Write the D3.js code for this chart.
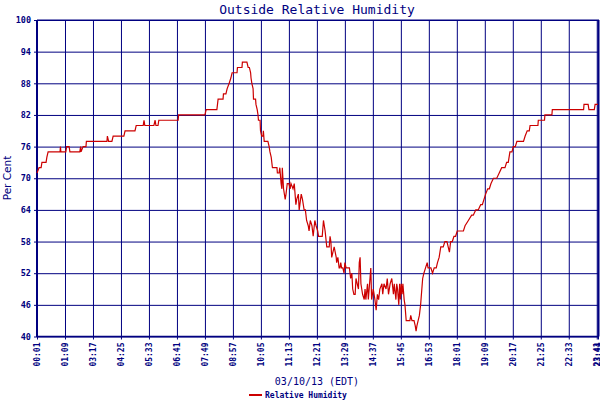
<!DOCTYPE html>
<html>
<head>
<meta charset="utf-8">
<script src="https://cdn.jsdelivr.net/npm/d3@7"></script>
<style>
  body { margin: 0; background: #fff; }
  svg { display: block; }
  .grid line { stroke: #000080; stroke-width: 1; }
  .grid path { display: none; }
</style>
</head>
<body>
<svg id="chart" width="600" height="400"></svg>
<script>
// minutes elapsed since 00:01 EDT (clock jumped 02:00 -> 03:00 this day)
var minutes = [0, 5, 10, 12, 22, 24, 27, 56, 57, 58, 70, 72, 78, 80, 104, 106, 107, 112, 119, 120,
    170, 171, 174, 182, 185, 211, 214, 238, 241, 258, 260, 262, 284, 287, 289, 294, 296, 343, 344, 408,
    411, 437, 440, 452, 453, 459, 462, 467, 471, 474, 486, 487, 498, 499, 510, 513, 516, 519, 520, 522,
    525, 526, 531, 532, 535, 537, 538, 542, 543, 546, 549, 550, 552, 561, 564, 566, 569, 572, 583, 584,
    588, 590, 593, 595, 596, 599, 603, 605, 608, 612, 615, 617, 622, 625, 629, 631, 635, 637, 642, 645,
    649, 652, 655, 659, 661, 664, 668, 671, 675, 678, 682, 684, 693, 694, 696, 700, 704, 706, 710, 712,
    714, 716, 719, 722, 727, 728, 731, 734, 736, 738, 740, 743, 746, 748, 751, 755, 759, 762, 765, 767,
    770, 773, 775, 778, 781, 783, 785, 787, 789, 791, 795, 797, 799, 803, 805, 807, 811, 813, 817, 821,
    824, 827, 830, 833, 838, 840, 843, 848, 851, 854, 858, 862, 866, 868, 872, 874, 876, 879, 881, 883,
    885, 887, 889, 892, 894, 897, 906, 908, 911, 916, 919, 921, 923, 926, 929, 932, 935, 937, 940, 944,
    948, 950, 957, 961, 965, 970, 973, 977, 981, 987, 991, 996, 999, 1002, 1005, 1009, 1013, 1017, 1021, 1036,
    1040, 1048, 1056, 1060, 1066, 1072, 1078, 1082, 1086, 1090, 1095, 1099, 1103, 1109, 1117, 1123, 1129, 1137, 1141, 1145,
    1149, 1154, 1157, 1162, 1166, 1182, 1186, 1191, 1196, 1198, 1217, 1218, 1233, 1234, 1251, 1252, 1328, 1329, 1339, 1341,
    1354, 1356, 1363];

var humidity = [71, 72, 72, 73, 73, 74, 75, 75, 76, 75, 75, 76, 76, 75, 75, 76, 75, 76, 76, 77,
    77, 78, 77, 77, 78, 78, 79, 79, 80, 80, 81, 80, 80, 81, 80, 80, 81, 81, 82, 82,
    83, 83, 85, 85, 86, 86, 87, 88, 89, 90, 90, 91, 91, 92, 92, 91, 91, 90, 89, 88,
    87, 85, 85, 84, 83, 82, 81, 81, 79, 78, 78, 79, 77, 77, 76, 75, 74, 72, 72, 71,
    71, 72, 69, 68, 72, 68, 66, 67, 69, 69, 68, 69, 68, 69, 65, 66, 67, 64, 67, 66,
    64, 64, 62, 61, 60, 62, 61, 59, 62, 61, 60, 59, 59, 60, 62, 60, 57, 57, 57, 59,
    58, 55, 56, 57, 55, 54, 55, 53, 53, 54, 53, 53, 52, 54, 53, 53, 53, 51, 52, 49,
    48, 48, 51, 50, 49, 54, 55, 50, 49, 48, 47, 49, 47, 50, 47, 49, 53, 47, 49, 47,
    45, 48, 47, 49, 50, 48, 50, 49, 51, 48, 50, 51, 48, 50, 47, 50, 49, 46, 50, 47,
    50, 48, 50, 47, 46, 43, 43, 44, 43, 43, 42, 41, 42, 43, 44, 46, 49, 51, 52, 53,
    54, 53, 53, 52, 53, 53, 54, 55, 57, 57, 58, 58, 57, 56, 58, 58, 59, 59, 60, 60,
    61, 62, 63, 63, 64, 64, 65, 65, 66, 67, 68, 68, 69, 70, 70, 71, 72, 72, 73, 73,
    75, 75, 76, 76, 77, 77, 78, 79, 79, 80, 80, 81, 81, 82, 82, 83, 83, 84, 84, 83,
    83, 84, 84];

var xTicks = [0, 68, 136, 204, 272, 340, 408, 476, 544, 612, 680, 748, 816, 884, 952, 1020, 1088, 1156, 1224, 1292, 1360, 1363];
var xTickLabels = ["00:01", "01:09", "03:17", "04:25", "05:33", "06:41", "07:49", "08:57", "10:05", "11:13", "12:21",
    "13:29", "14:37", "15:45", "16:53", "18:01", "19:09", "20:17", "21:25", "22:33", "23:41", "23:44"];
var yTicks = [40, 46, 52, 58, 64, 70, 76, 82, 88, 94, 100];

var navy = "#000080";
var red = "#cc0000";
var mono = "'DejaVu Sans Mono', monospace";

var plotLeft = 37, plotRight = 598, plotTop = 20, plotBottom = 336.5;

var svg = d3.select("#chart");

var x = d3.scaleLinear().domain([0, 1363]).range([plotLeft, plotRight]);
var y = d3.scaleLinear().domain([40, 100]).range([plotBottom, plotTop]);

var data = minutes.map(function (m, i) { return { t: m, v: humidity[i] }; });

// grid lines
svg.append("g")
    .attr("class", "grid")
    .attr("transform", "translate(0," + plotBottom + ")")
    .call(d3.axisBottom(x).tickValues(xTicks).tickSize(-(plotBottom - plotTop)).tickFormat(""));

svg.append("g")
    .attr("class", "grid")
    .attr("transform", "translate(" + plotLeft + ",0)")
    .call(d3.axisLeft(y).tickValues(yTicks).tickSize(-(plotRight - plotLeft)).tickFormat(""));

// y labels
var yAxis = svg.append("g")
    .attr("transform", "translate(" + plotLeft + ",0)")
    .call(d3.axisLeft(y).tickValues(yTicks).tickSize(3).tickPadding(3));
yAxis.select(".domain").remove();
yAxis.selectAll("line").attr("stroke", navy);
yAxis.selectAll("text")
    .attr("fill", navy)
    .style("font-family", mono)
    .style("font-size", "8.5px")
    .style("font-weight", "bold");

// x tick marks
var xAxis = svg.append("g")
    .attr("transform", "translate(0," + plotBottom + ")")
    .call(d3.axisBottom(x).tickValues(xTicks).tickSize(3).tickFormat(""));
xAxis.select(".domain").remove();
xAxis.selectAll("line").attr("stroke", navy);

// x labels, rotated
svg.append("g").selectAll("text")
    .data(xTicks)
    .enter().append("text")
    .attr("transform", function (d) { return "translate(" + (x(d) + 3) + "," + (plotBottom + 6) + ") rotate(-90)"; })
    .attr("text-anchor", "end")
    .attr("fill", navy)
    .style("font-family", mono)
    .style("font-size", "8px")
    .style("font-weight", "bold")
    .text(function (d, i) { return xTickLabels[i]; });

// plot frame
svg.append("line").attr("x1", plotLeft).attr("x2", plotLeft).attr("y1", plotTop).attr("y2", plotBottom + 0.5)
    .attr("stroke", navy).attr("stroke-width", 2);
svg.append("line").attr("x1", plotLeft).attr("x2", plotRight + 1).attr("y1", plotBottom).attr("y2", plotBottom)
    .attr("stroke", navy).attr("stroke-width", 1.5);
svg.append("line").attr("x1", plotLeft).attr("x2", plotRight + 1).attr("y1", plotTop).attr("y2", plotTop)
    .attr("stroke", navy).attr("stroke-width", 1);
svg.append("line").attr("x1", plotRight + 0.5).attr("x2", plotRight + 0.5).attr("y1", plotTop).attr("y2", plotBottom)
    .attr("stroke", navy).attr("stroke-width", 2);

// humidity line
var line = d3.line()
    .x(function (d) { return x(d.t); })
    .y(function (d) { return y(d.v); });

svg.append("path")
    .datum(data)
    .attr("fill", "none")
    .attr("stroke", red)
    .attr("stroke-width", 1.2)
    .attr("d", line);

// titles
svg.append("text")
    .attr("x", 317).attr("y", 14)
    .attr("text-anchor", "middle")
    .attr("fill", navy)
    .style("font-family", mono)
    .style("font-size", "13px")
    .text("Outside Relative Humidity");

svg.append("text")
    .attr("transform", "translate(11,178) rotate(-90)")
    .attr("text-anchor", "middle")
    .attr("fill", navy)
    .style("font-family", "'DejaVu Sans', sans-serif")
    .style("font-size", "10.5px")
    .text("Per Cent");

svg.append("text")
    .attr("x", 317).attr("y", 385)
    .attr("text-anchor", "middle")
    .attr("fill", navy)
    .style("font-family", mono)
    .style("font-size", "10px")
    .text("03/10/13 (EDT)");

// legend
svg.append("line")
    .attr("x1", 249).attr("x2", 262).attr("y1", 395).attr("y2", 395)
    .attr("stroke", red).attr("stroke-width", 2);
svg.append("text")
    .attr("x", 265).attr("y", 398)
    .attr("text-anchor", "start")
    .attr("fill", navy)
    .style("font-family", mono)
    .style("font-size", "8px")
    .style("font-weight", "bold")
    .text("Relative Humidity");
</script>
</body>
</html>
